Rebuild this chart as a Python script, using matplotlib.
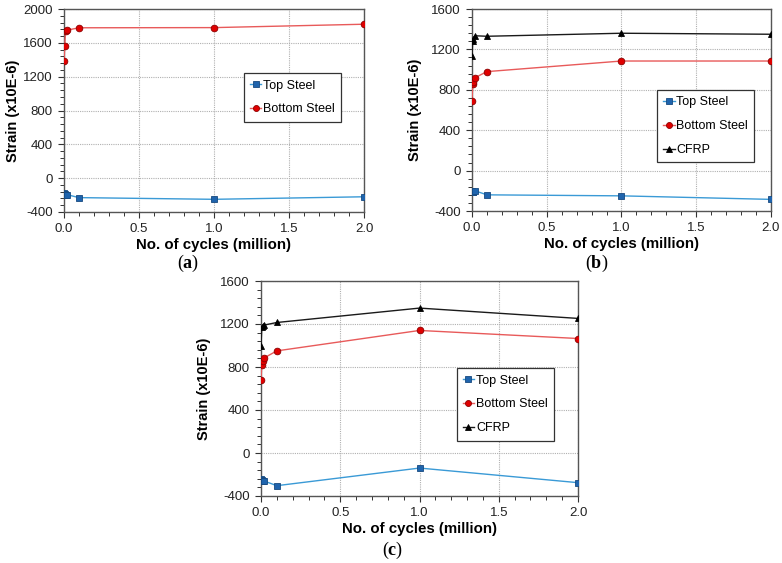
import matplotlib
matplotlib.use("Agg")
import matplotlib.pyplot as plt
from matplotlib.ticker import MultipleLocator

plt.rcParams["font.family"] = ["Liberation Sans", "DejaVu Sans"]
plt.rcParams["axes.unicode_minus"] = False
plt.rcParams["mathtext.fontset"] = "custom"
plt.rcParams["mathtext.bf"] = "Liberation Serif:bold"
plt.rcParams["mathtext.rm"] = "Liberation Serif"

# cycles (million)
cycles = [0.0, 0.005, 0.01, 0.02, 0.1, 1.0, 2.0]

# panel (a)
top_a = [-180, -190, -200, -195, -230, -250, -220]
bottom_a = [1380, 1560, 1735, 1750, 1778, 1780, 1820]

# panel (b)
top_b = [-200, -215, -210, -200, -240, -250, -285]
bottom_b = [685, 855, 880, 920, 980, 1085, 1085]
cfrp_b = [1135, 1285, 1300, 1335, 1330, 1360, 1350]

# panel (c)
top_c = [-245, -255, -260, -261, -304, -140, -276]
bottom_c = [683, 820, 860, 885, 950, 1140, 1065]
cfrp_c = [991, 1168, 1183, 1190, 1214, 1348, 1252]

labels = ["Top Steel", "Bottom Steel", "CFRP"]
captions = ["a", "b", "c"]

styles = {
    "Top Steel": dict(color="#3a9ad6", marker="s", mfc="#1f64ad", mec="#17497f"),
    "Bottom Steel": dict(color="#e85a5a", marker="o", mfc="#e00000", mec="#8c0000"),
    "CFRP": dict(color="#1a1a1a", marker="^", mfc="black", mec="black"),
}


def draw_panel(ax, series, ylim, ystep, legend_box, ypad):
    for name, vals in series:
        st = styles[name]
        ax.plot(cycles, vals, color=st["color"], lw=1.0, marker=st["marker"],
                ms=4.8, mfc=st["mfc"], mec=st["mec"], mew=0.6, label=name,
                zorder=3)
    ax.set_xlim(0, 2.0)
    ax.set_ylim(*ylim)
    ax.xaxis.set_major_locator(MultipleLocator(0.5))
    ax.xaxis.set_minor_locator(MultipleLocator(0.1))
    ax.yaxis.set_major_locator(MultipleLocator(ystep))
    ax.yaxis.set_minor_locator(MultipleLocator(ystep / 5))
    ax.xaxis.set_major_formatter(plt.FuncFormatter(lambda v, p: f"{v:.1f}"))
    ax.grid(True, which="major", color="#b0b0b0", ls=(0, (1, 1)), lw=0.8)
    ax.tick_params(which="major", direction="out", length=4, width=0.8,
                   labelsize=9.5, pad=4, colors="#333333", labelcolor="#222222")
    ax.tick_params(which="minor", direction="out", length=3, width=0.7,
                   colors="#333333")
    for sp in ax.spines.values():
        sp.set_color("#555555")
        sp.set_linewidth(1.0)
    ax.set_xlabel("No. of cycles (million)", fontsize=10.8, fontweight="bold",
                  labelpad=2)
    ax.set_ylabel("Strain (x10E-6)", fontsize=10.5, fontweight="bold",
                  labelpad=ypad)
    leg = ax.legend(loc="upper left", bbox_to_anchor=legend_box, fontsize=9,
                    handlelength=0.9, handletextpad=0.15, labelspacing=0.95,
                    borderpad=0.5, borderaxespad=0, fancybox=False,
                    framealpha=1, edgecolor="#333333", markerscale=0.9)
    leg.get_frame().set_linewidth(0.9)


W, H = 782, 563
fig = plt.figure(figsize=(W / 100, H / 100), dpi=100)


def px_axes(l, t, r, b):
    return fig.add_axes([l / W, 1 - b / H, (r - l) / W, (b - t) / H])


ax_a = px_axes(64, 9, 364, 212)
ax_b = px_axes(472, 9, 771, 211)
ax_c = px_axes(261, 281, 578, 496)

draw_panel(ax_a, [(labels[0], top_a), (labels[1], bottom_a)],
           (-400, 2000), 400, (0.599, 0.683), 2)
draw_panel(ax_b, [(labels[0], top_b), (labels[1], bottom_b), (labels[2], cfrp_b)],
           (-400, 1600), 400, (0.619, 0.599), 7)
draw_panel(ax_c, [(labels[0], top_c), (labels[1], bottom_c), (labels[2], cfrp_c)],
           (-400, 1600), 400, (0.617, 0.594), 7)

for cap, (cx, cy) in zip(captions, [(188, 263), (597, 263), (393, 550)]):
    fig.text(cx / W, 1 - cy / H, r"($\mathbf{" + cap + r"}$)", fontsize=13,
             ha="center", va="center", family="Liberation Serif")

fig.savefig("out.png", dpi=100)
